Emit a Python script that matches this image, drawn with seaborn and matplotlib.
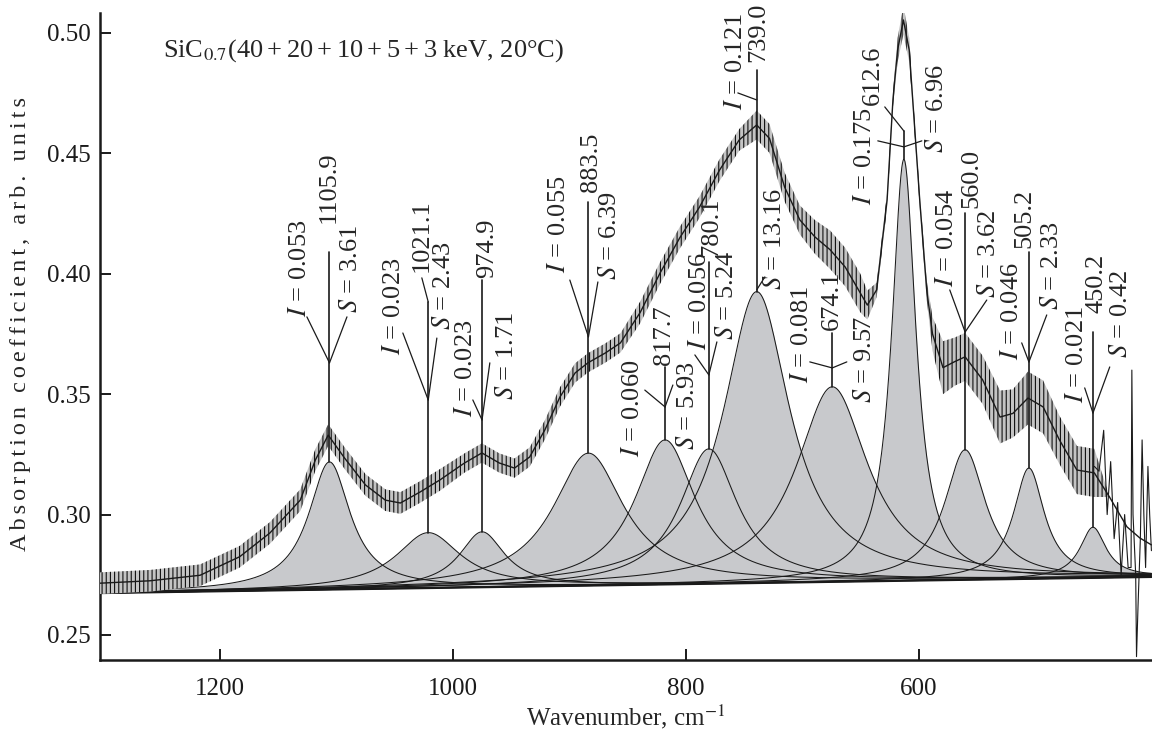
import numpy as np
import matplotlib
matplotlib.use("Agg")
import matplotlib.pyplot as plt
import seaborn as sns

# --- data ---
peak_wn = [1105.9, 1021.1, 974.9, 883.5, 817.7, 780.1, 739.0, 674.1, 612.6, 560.0, 505.2, 450.2]
peak_I = [0.053, 0.023, 0.023, 0.055, 0.060, 0.056, 0.121, 0.081, 0.175, 0.054, 0.046, 0.021]
peak_S = [3.61, 2.43, 1.71, 6.39, 5.93, 5.24, 13.16, 9.57, 6.96, 3.62, 2.33, 0.42]
# full width at half maximum of each gray component, cm-1
peak_fwhm = [43.4, 67.3, 47.3, 74.0, 62.9, 59.6, 69.2, 75.2, 25.3, 42.7, 32.2, 27.0]

baseline_wn = [1303, 400]
baseline_val = [0.2674, 0.2741]

# smooth fit envelope (the thin black line over the spectrum)
env_wn = [1303, 1260, 1217, 1183, 1157, 1131, 1118, 1107, 1093, 1075, 1058, 1045, 1028, 1011,
          990, 975, 960, 947, 934, 921, 908, 895, 884, 869, 856,
          839, 822, 805, 788, 771, 754,
          739, 728, 715, 702, 689, 676, 663, 650,
          644, 636, 627, 622, 618, 613, 608, 605, 599, 593,
          588, 579, 569, 560, 545, 530, 519, 506, 493, 479, 464, 449,
          436, 421, 410, 400]
env_val = [0.2715, 0.2725, 0.2748, 0.2825, 0.2924, 0.3060, 0.3227, 0.3330, 0.3235, 0.3123, 0.3060, 0.3048, 0.3094, 0.3144,
           0.3214, 0.3256, 0.3214, 0.3193, 0.3239, 0.3351, 0.3488, 0.3588, 0.3630, 0.3671, 0.3713,
           0.3840, 0.4003, 0.4150, 0.4278, 0.4430, 0.4556,
           0.4618, 0.4562, 0.4360, 0.4224, 0.4153, 0.4100, 0.4028, 0.3920,
           0.3870, 0.3933, 0.4307, 0.4722, 0.4929, 0.5054, 0.4929, 0.4722, 0.4307, 0.3933,
           0.3750, 0.3610, 0.3635, 0.3655, 0.3560, 0.3405, 0.3420, 0.3484, 0.3447, 0.3310, 0.3185, 0.3173,
           0.3073, 0.2949, 0.2903, 0.2874]
# half-range of the noisy measured spectrum around the envelope
noise_amp = [0.0045] * 14 + [0.004] * 11 + [0.0045] * 6 + \
            [0.006, 0.006, 0.006, 0.006, 0.007, 0.008, 0.008, 0.008] + \
            [0.006, 0.003, 0.003, 0.003, 0.005, 0.006, 0.005, 0.003, 0.003, 0.004] + \
            [0.007, 0.011, 0.010, 0.010, 0.010, 0.011, 0.010, 0.011, 0.011, 0.010, 0.010, 0.010] + \
            [0.0, 0.0, 0.0, 0.0]

# spiky tail of the measured spectrum at the low-wavenumber end
spike_wn = [449, 445, 441, 438, 435, 432, 429, 426, 423, 420, 417.5, 416.8, 415.8, 413.5, 412.8,
            411.5, 409.5, 408, 406.5, 405, 403, 401.5, 400]
spike_val = [0.320, 0.318, 0.335, 0.300, 0.322, 0.290, 0.305, 0.275, 0.300, 0.278, 0.278, 0.360, 0.300, 0.275, 0.241,
             0.262, 0.290, 0.331, 0.300, 0.278, 0.320, 0.300, 0.285]

# annotation layout: stem top, branch start heights, branch ends, label anchors (bottom of rotated text)
ann = [
    dict(top=0.4091, fi=0.3630, fs=0.3630, ie=(1125.3, 0.3821), se=(1090.9, 0.3821),
         ip=(1131.3, 0.3821), sp=(1087.5, 0.3837), npos=(1106.5, 0.4211)),
    dict(top=0.3883, fi=0.3476, fs=0.3476, ie=(1042.9, 0.3754), se=(1013.7, 0.3733),
         ip=(1050.6, 0.3663), sp=(1007.7, 0.3767), npos=(1026.6, 0.4007), bend=(1026.6, 0.3983)),
    dict(top=0.3974, fi=0.3393, fs=0.3393, ie=(982.8, 0.3476), se=(968.2, 0.3630),
         ip=(988.8, 0.3405), sp=(953.6, 0.3476), npos=(970.7, 0.3983)),
    dict(top=0.4298, fi=0.3738, fs=0.3738, ie=(899.5, 0.3974), se=(875.4, 0.3966),
         ip=(908.9, 0.4003), sp=(865.1, 0.3974), npos=(881.4, 0.4340)),
    dict(top=0.3613, fi=0.3447, fs=0.3447, ie=(835.1, 0.3517), se=(811.0, 0.3538),
         ip=(845.4, 0.3239), sp=(798.1, 0.3268), npos=(818.8, 0.3621)),
    dict(top=0.4049, fi=0.3580, fs=0.3580, ie=(792.1, 0.3663), se=(773.2, 0.3717),
         ip=(787.9, 0.3684), sp=(764.7, 0.3725), npos=(778.4, 0.4070)),
    dict(top=0.4846, fi=0.4722, fs=0.3933, ie=(755.2, 0.4751), se=(732.0, 0.3987),
         ip=(756.9, 0.4680), sp=(723.4, 0.3933), npos=(738.0, 0.4880)),
    dict(top=0.3754, fi=0.3609, fs=0.3609, ie=(693.4, 0.3634), se=(661.6, 0.3634),
         ip=(700.3, 0.3547), sp=(646.2, 0.3463), npos=(674.5, 0.3767)),
    dict(top=0.4593, fi=0.4527, fs=0.4527, ie=(635.0, 0.4552), se=(597.2, 0.4552),
         ip=(646.2, 0.4286), sp=(584.3, 0.4502), npos=(639.3, 0.4701), bend=(629.0, 0.4693)),
    dict(top=0.4252, fi=0.3758, fs=0.3758, ie=(573.2, 0.3933), se=(541.4, 0.3891),
         ip=(575.8, 0.3945), sp=(539.7, 0.3899), npos=(554.3, 0.4273)),
    dict(top=0.4091, fi=0.3634, fs=0.3634, ie=(511.4, 0.3713), se=(489.9, 0.3829),
         ip=(519.9, 0.3642), sp=(485.6, 0.3850), npos=(508.8, 0.4107)),
    dict(top=0.3758, fi=0.3422, fs=0.3422, ie=(457.3, 0.3526), se=(435.8, 0.3613),
         ip=(464.1, 0.3463), sp=(426.3, 0.3650), npos=(447.0, 0.3837)),
]

# --- style ---
sns.set_theme(style="ticks")
plt.rcParams["font.family"] = ["Liberation Serif", "DejaVu Serif"]
plt.rcParams["mathtext.fontset"] = "stix"
plt.rcParams["hatch.linewidth"] = 0.8
GRAY = "#c8c9cc"

fig = plt.figure(figsize=(11.52, 7.36), dpi=100)
ax = fig.add_axes([100 / 1152, 76 / 736, 1052 / 1152, 647 / 736])

grid = np.linspace(baseline_wn[0], baseline_wn[1], 3000)
base = np.interp(grid, baseline_wn[::-1], baseline_val[::-1])

# Lorentzian components with height I
comps = []
for w0, I, fw in zip(peak_wn, peak_I, peak_fwhm):
    comps.append(I / (1 + ((grid - w0) / (fw / 2)) ** 2))

for c in comps:
    ax.fill_between(grid, base, base + c, color=GRAY, lw=0, zorder=1)
for c in comps:
    ax.plot(grid, base + c, color="k", lw=0.75, zorder=2)
ax.plot(baseline_wn, baseline_val, color="k", lw=1.6, zorder=2)

# measured spectrum as a ripple band
env_wn_a = np.array(env_wn, float)
env_val_a = np.array(env_val)
amp = np.array(noise_amp)
ax.fill_between(env_wn_a, env_val_a - amp, env_val_a + amp, facecolor="#c4c4c4",
                edgecolor="#111111", hatch="||||", lw=0, zorder=3)
sns.lineplot(x=spike_wn, y=spike_val, sort=False, color="k", lw=0.8, ax=ax, zorder=3)
sns.lineplot(x=env_wn, y=env_val, sort=False, color="k", lw=1.0, ax=ax, zorder=4)

# peak markers and labels
lab_kw = dict(rotation=90, ha="center", va="bottom", fontsize=19, zorder=6)
for k, (w0, I, S) in enumerate(zip(peak_wn, peak_I, peak_S)):
    a = ann[k]
    ytop = np.interp(w0, baseline_wn[::-1], baseline_val[::-1]) + I
    ax.plot([w0, w0], [ytop, a["top"]], color="k", lw=1.2, zorder=5)
    ax.plot([w0, a["ie"][0]], [a["fi"], a["ie"][1]], color="k", lw=0.9, zorder=5)
    ax.plot([w0, a["se"][0]], [a["fs"], a["se"][1]], color="k", lw=0.9, zorder=5)
    if "bend" in a:
        ax.plot([w0, a["bend"][0]], [a["top"], a["bend"][1]], color="k", lw=0.9, zorder=5)
    ax.text(*a["ip"], f"$I$ = {I:.3f}", **lab_kw)
    ax.text(*a["sp"], f"$S$ = {S:.2f}", **lab_kw)
    ax.text(*a["npos"], f"{w0:.1f}", **lab_kw)

sp6 = "\u2006"
title = "SiC$_{0.7}$(40" + f"{sp6}+{sp6}20{sp6}+{sp6}10{sp6}+{sp6}5{sp6}+{sp6}3 keV, 20°C)"
ax.text(1249, 0.4929, title, fontsize=19, ha="left", va="center")

ax.set_xlim(1303, 399.5)
ax.set_ylim(0.2396, 0.5083)
ax.set_xticks([1200, 1000, 800, 600])
ax.set_yticks([0.25, 0.30, 0.35, 0.40, 0.45, 0.50])
ax.set_yticklabels(["0.25", "0.30", "0.35", "0.40", "0.45", "0.50"])
ax.tick_params(direction="in", length=8, width=1.4, labelsize=18, colors="k")
ax.tick_params(axis="x", pad=13)
ax.tick_params(axis="y", pad=7)
for s in ["top", "right"]:
    ax.spines[s].set_visible(False)
for s in ["left", "bottom"]:
    ax.spines[s].set_linewidth(1.8)
    ax.spines[s].set_color("k")

ax.set_xlabel("Wavenumber, cm$^{-1}$", fontsize=18)
# the reference label is letter-spaced
ax.set_ylabel(sp6.join("Absorption coefficient, arb. units"), fontsize=17.5)
ax.xaxis.set_label_coords(0.5, -0.066)
ax.yaxis.set_label_coords(-0.066, 0.52)

fig.savefig("out.png", dpi=100)
